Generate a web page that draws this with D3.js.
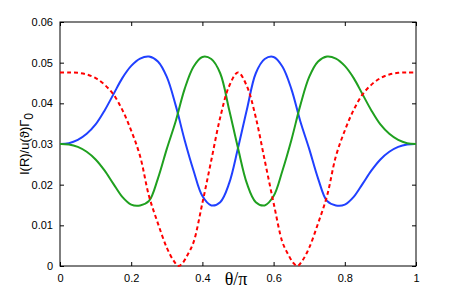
<!DOCTYPE html>
<html>
<head>
<meta charset="utf-8">
<script src="https://cdn.jsdelivr.net/npm/d3@7"></script>
<style>
  body { margin: 0; background: #fff; }
  svg { display: block; }
</style>
</head>
<body>
<div id="chart"></div>
<script>
// theta/pi sample points for the blue and green curves
var theta = [0, 0.025, 0.05, 0.075, 0.1, 0.125, 0.15, 0.175, 0.2, 0.225,
    0.25, 0.275, 0.3, 0.325, 0.35, 0.375, 0.4, 0.425, 0.45, 0.475,
    0.5, 0.525, 0.55, 0.575, 0.6, 0.625, 0.65, 0.675, 0.7, 0.725,
    0.75, 0.775, 0.8, 0.825, 0.85, 0.875, 0.9, 0.925, 0.95, 0.975, 1];

var blueVals = [0.0300, 0.0302, 0.0310, 0.0325, 0.0348, 0.0382, 0.0422, 0.0462, 0.0492, 0.0510,
    0.0515, 0.0503, 0.0465, 0.0395, 0.0310, 0.0235, 0.0172, 0.0149, 0.0157, 0.0203,
    0.0290, 0.0385, 0.0474, 0.0509, 0.0514, 0.0490, 0.0435, 0.0356, 0.0288, 0.0215,
    0.0160, 0.0149, 0.0151, 0.0170, 0.0202, 0.0235, 0.0262, 0.0281, 0.0293, 0.0299, 0.0300];

var greenVals = [0.0300, 0.0299, 0.0293, 0.0281, 0.0262, 0.0235, 0.0202, 0.0170, 0.0151, 0.0149,
    0.0160, 0.0215, 0.0288, 0.0356, 0.0435, 0.0490, 0.0514, 0.0509, 0.0474, 0.0385,
    0.0290, 0.0203, 0.0157, 0.0149, 0.0172, 0.0235, 0.0310, 0.0395, 0.0465, 0.0503,
    0.0515, 0.0510, 0.0492, 0.0462, 0.0422, 0.0382, 0.0348, 0.0325, 0.0310, 0.0302, 0.0300];

// red dashed curve has its own samples so the zeros land on 1/3 and 2/3
var thetaRed = [0, 0.025, 0.05, 0.075, 0.1, 0.125, 0.15, 0.175, 0.2, 0.225,
    0.25, 0.275, 0.3, 0.32, 0.3333, 0.345, 0.36, 0.375, 0.4, 0.425,
    0.45, 0.475, 0.5, 0.525, 0.55, 0.575, 0.6, 0.625, 0.64, 0.655,
    0.6667, 0.68, 0.7, 0.725, 0.75, 0.775, 0.8, 0.825, 0.85, 0.875,
    0.9, 0.925, 0.95, 0.975, 1];

var redVals = [0.0476, 0.0476, 0.0475, 0.0471, 0.0462, 0.0446, 0.0422, 0.0384, 0.0333, 0.0270,
    0.0172, 0.0105, 0.0045, 0.0012, 0.0000, 0.0008, 0.0030, 0.0058, 0.0155, 0.0260,
    0.0365, 0.0442, 0.0476, 0.0442, 0.0365, 0.0260, 0.0155, 0.0058, 0.0030, 0.0008,
    0.0000, 0.0012, 0.0045, 0.0105, 0.0172, 0.0270, 0.0333, 0.0384, 0.0422, 0.0446,
    0.0462, 0.0471, 0.0475, 0.0476, 0.0476];

var xTicks = [0, 0.2, 0.4, 0.6, 0.8, 1];
var yTicks = [0, 0.01, 0.02, 0.03, 0.04, 0.05, 0.06];

function drawChart(){
    const width = 459;
    const height = 300;
    const left = 60, right = 416, top = 22, bottom = 266;

    const xScale = d3.scaleLinear().domain([0, 1]).range([left, right]);
    const yScale = d3.scaleLinear().domain([0, 0.06]).range([bottom, top]);

    let svg = d3.select('#chart')
        .append('svg')
        .attr('width', width)
        .attr('height', height)
        .style('font-family', 'Liberation Sans, Arial, sans-serif');

    const tickLen = 4;

    // bottom and top axes, ticks pointing inward
    svg.append('g')
        .attr('transform', `translate(0,${bottom})`)
        .call(d3.axisBottom(xScale).tickValues(xTicks).tickSizeInner(-tickLen).tickSizeOuter(0)
            .tickPadding(tickLen + 4).tickFormat(d3.format('')))
        .call(g => g.select('.domain').remove())
        .selectAll('text').attr('font-size', 11).attr('fill', '#000');

    svg.append('g')
        .attr('transform', `translate(0,${top})`)
        .call(d3.axisTop(xScale).tickValues(xTicks).tickSizeInner(-tickLen).tickSizeOuter(0).tickFormat(''))
        .call(g => g.select('.domain').remove());

    // left and right axes
    svg.append('g')
        .attr('transform', `translate(${left},0)`)
        .call(d3.axisLeft(yScale).tickValues(yTicks).tickSizeInner(-tickLen).tickSizeOuter(0)
            .tickPadding(tickLen + 3).tickFormat(d3.format('')))
        .call(g => g.select('.domain').remove())
        .selectAll('text').attr('font-size', 11).attr('fill', '#000');

    svg.append('g')
        .attr('transform', `translate(${right},0)`)
        .call(d3.axisRight(yScale).tickValues(yTicks).tickSizeInner(-tickLen).tickSizeOuter(0).tickFormat(''))
        .call(g => g.select('.domain').remove());

    svg.selectAll('.tick line').attr('stroke', '#000');

    // box
    svg.append('rect')
        .attr('x', left)
        .attr('y', top)
        .attr('width', right - left)
        .attr('height', bottom - top)
        .attr('fill', 'none')
        .attr('stroke', '#000')
        .attr('stroke-width', 1);

    const line = d3.line()
        .x(d => xScale(d[0]))
        .y(d => yScale(d[1]))
        .curve(d3.curveCatmullRom.alpha(0.5));

    const series = [
        { xs: theta, ys: blueVals, color: '#2040ff', dash: null },
        { xs: theta, ys: greenVals, color: '#1fa01f', dash: null },
        { xs: thetaRed, ys: redVals, color: '#ff0000', dash: '4,3' }
    ];

    series.forEach(function(s){
        let pts = s.xs.map((t, i) => [t, s.ys[i]]);
        svg.append('path')
            .datum(pts)
            .attr('d', line)
            .attr('fill', 'none')
            .attr('stroke', s.color)
            .attr('stroke-width', 2)
            .attr('stroke-dasharray', s.dash);
    });

    // axis labels
    svg.append('text')
        .attr('x', 236)
        .attr('y', 285)
        .attr('text-anchor', 'middle')
        .attr('font-family', 'Liberation Serif, Times New Roman, serif')
        .attr('font-size', 18)
        .text('θ/π');

    let ylab = svg.append('text')
        .attr('transform', `translate(29,${(top + bottom) / 2}) rotate(-90)`)
        .attr('text-anchor', 'middle')
        .attr('font-size', 13);
    ylab.append('tspan').text('I(R)/u(ϑ)Γ');
    ylab.append('tspan').attr('dy', 4).attr('font-size', 12).text('0');
}

drawChart();
</script>
</body>
</html>
